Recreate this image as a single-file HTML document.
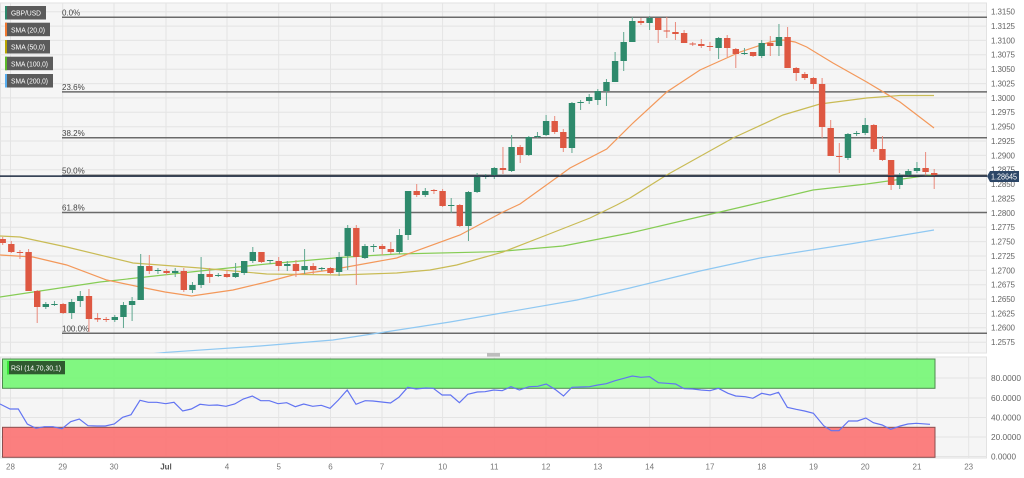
<!DOCTYPE html>
<html><head><meta charset="utf-8"><style>
html,body{margin:0;padding:0;background:#fff;}
svg{display:block;}
text{font-family:"Liberation Sans",sans-serif;}
</style></head><body>
<svg width="1024" height="478" viewBox="0 0 1024 478" xmlns="http://www.w3.org/2000/svg">
<defs>
<clipPath id="cm"><rect x="0" y="3" width="987" height="350"/></clipPath>
<clipPath id="cr"><rect x="0" y="357" width="987" height="102"/></clipPath>
</defs>
<rect x="0" y="0" width="1024" height="478" fill="#fff"/>
<!-- main panel -->
<rect x="0.5" y="3" width="986" height="350" fill="#f5f5f5" stroke="#e2e2e2"/>
<g stroke="#e4e4e4" stroke-width="1">
<path d="M0 11.7H987M0 26.1H987M0 40.4H987M0 54.8H987M0 69.2H987M0 83.6H987M0 97.9H987M0 112.3H987M0 126.7H987M0 141H987M0 155.4H987M0 169.8H987M0 184.1H987M0 198.5H987M0 212.9H987M0 227.3H987M0 241.6H987M0 256H987M0 270.4H987M0 284.7H987M0 299.1H987M0 313.5H987M0 327.8H987M0 342.2H987"/>
<path d="M10.5 3V353M62.7 3V353M114 3V353M166 3V353M227 3V353M278.7 3V353M330.5 3V353M382 3V353M442.6 3V353M494.3 3V353M546 3V353M597.8 3V353M649.6 3V353M710 3V353M761.7 3V353M813.5 3V353M865.2 3V353M917 3V353M968.7 3V353"/>
</g>
<!-- fib lines -->
<g stroke="#6a6a6a" stroke-width="1.5">
<path d="M62 17.3H987M62 91.9H987M62 137.7H987M62 175.3H987M62 212.5H987M62 333.3H987"/>
</g>
<g font-size="8" fill="#444">
<text x="62" y="15.5">0.0%</text>
<text x="62" y="90">23.6%</text>
<text x="62" y="135.8">38.2%</text>
<text x="62" y="173.4">50.0%</text>
<text x="62" y="210.6">61.8%</text>
<text x="62" y="331.4">100.0%</text>
</g>
<g clip-path="url(#cm)" fill="none" stroke-width="1.2">
<polyline stroke="#8fc8f2" points="150,354 166.7,352.3 260,346 333,340 450,322 577,300 630,288 700,271 760,258 850,244 934,230"/>
<polyline stroke="#86cc55" points="0,297 100,282 200,271 266.7,264 340,257.5 396.7,254 496.7,251.7 563,246 630,233 690,219 750,205 813,190 866.7,184 934,174.5"/>
<polyline stroke="#c9bb55" points="0,236 20,237 66.7,247 133,263 200,268 266.7,274 340,275 396.7,273 430,270 456.7,265 503,252 546.7,235 590,218 616.7,205 630,198 666.7,175 733,138 783,115 820,104 866.7,98 900,95.5 934,95.5"/>
<polyline stroke="#f3985a" points="0,255 33,257 66.7,265 106.7,280 140,287 165,292 191.7,296 233,290 266.7,282 293,275 330,270 396.7,258 460,235 503,212 520,204 570,168 606.7,149 633,123 666.7,92 700,70 740,52 770,42 783,40 795,42 806.7,47 833,63 866.7,82 900,102 934,128"/>
</g>
<!-- candles -->
<g clip-path="url(#cm)" fill="none">
<path stroke="#5fa78f" stroke-width="1" d="M45.8 302V309M54.45 301V306M71.7 299V319M80.3 291V307M114.8 315V322M123.45 302V328M132.1 297V321M140.7 254V300M157.95 268V274M175.2 268V277M192.45 282V293M201.1 257V288M218.3 273V277M235.6 263V278M244.2 261V275M252.8 247V263M270.1 260V264M287.3 261V271M304.6 249V274M321.8 267V271M339.1 252V276M347.7 225V270M364.95 244V259M373.6 244V252M399.45 229V254M408.1 191V240M425.3 188V197M451.2 198V213M468.45 191V241M477.1 173V193M485.7 174V179M494.3 167V179M511.6 135V172M528.8 136V156M537.45 132V138M546.1 115V136M571.95 102V153M580.6 100V110M589.2 94V104M597.8 89V105M606.45 79V106M615.1 52V82M623.7 32V71M632.3 17V42M649.6 16V30M718.6 37V59M744.45 48V55M761.7 40V58M778.95 24V56M847.95 133V160M856.6 131V136M865.2 118V135M899.7 173V189M908.3 169V176M916.95 162V173"/>
<path stroke="#e98a7c" stroke-width="1" d="M2.7 237V245M11.3 241V253M19.95 250V259M28.6 249V291M37.2 290V323M63.1 303V314M88.95 289V332M97.6 313V322M106.2 317V322M149.3 255V274M166.6 269V275M183.8 268V292M209.7 268V283M226.95 270V278M261.45 252V263M278.7 257V271M295.95 260V277M313.2 263V274M330.45 267V274M356.3 225V285M382.2 244V255M390.8 242V254M416.7 184V197M433.95 189V194M442.6 189V207M459.8 204V227M502.95 147V174M520.2 145V163M554.7 116V134M563.3 129V152M640.95 18V25M658.2 18V43M666.8 17V38M675.45 22V40M684.1 30V43M692.7 42V46M701.3 39V48M709.95 42V51M727.2 35V57M735.8 48V68M753.1 52V57M770.3 36V56M787.6 27V68M796.2 67V81M804.8 72V80M813.45 77V89M822.1 78V138M830.7 120V156M839.3 143V173M873.8 124V152M882.45 136V161M891.1 160V190M925.6 152V176M934.2 169V189"/>
<path stroke="#2e8a6c" stroke-width="6.4" d="M45.8 304V307M54.45 304V305M71.7 302V313M80.3 296V301M114.8 317V320M123.45 305V317M132.1 301V305M140.7 266V300M157.95 270V271M175.2 271V273M192.45 285V290M201.1 274V285M218.3 275V276M235.6 273V277M244.2 261V273M252.8 252V261M270.1 260V261M287.3 264V266M304.6 266V270M321.8 268V269M339.1 257V272M347.7 228V256M364.95 246V258M373.6 246V247M399.45 235V252M408.1 191V235M425.3 191V195M451.2 205V206M468.45 192V226M477.1 177V192M485.7 176V177M494.3 168V175M511.6 147V171M528.8 137V155M537.45 136V137M546.1 121V135M571.95 103V148M580.6 102V103M589.2 97V101M597.8 91V100M606.45 82V91M615.1 61V82M623.7 42V61M632.3 21V42M649.6 18V23M718.6 38V48M744.45 53V54M761.7 43V56M778.95 37V46M847.95 134V158M856.6 133V134M865.2 125V133M899.7 175V185M908.3 171V175M916.95 168V171"/>
<path stroke="#de5842" stroke-width="6.4" d="M2.7 239V243M11.3 244V252M19.95 252V253M28.6 252V291M37.2 291V307M63.1 304V313M88.95 296V319M97.6 318V319.5M106.2 319V320M149.3 266V271M166.6 271V273M183.8 271V290M209.7 274V277M226.95 274V277M261.45 252V262M278.7 261V266M295.95 264V271M313.2 266V270M330.45 268V273M356.3 228V257M382.2 246V249M390.8 249V252M416.7 191V195M433.95 190V191M442.6 191V206M459.8 205V226M502.95 168V170M520.2 147V155M554.7 121V132M563.3 132V148M640.95 21V23M658.2 18V30M666.8 30.5V31.5M675.45 32V34M684.1 33V43M692.7 43.5V44.5M701.3 44V46M709.95 46V47M727.2 38V48M735.8 49V54M753.1 52V56M770.3 43V46M787.6 37V68M796.2 68V73M804.8 74V78M813.45 78V84M822.1 84V127M830.7 128V156M839.3 156V157M873.8 125V149M882.45 149V160M891.1 160V185M925.6 168V172M934.2 173V175"/>
</g>
<!-- current price line -->
<path d="M0 176.1H987" stroke="#1c2a42" stroke-width="1.5"/>
<!-- right axis -->
<g font-size="8" fill="#666" lengthAdjust="spacingAndGlyphs">
<text x="991" y="14.6" textLength="24">1.3150</text>
<text x="991" y="29" textLength="24">1.3125</text>
<text x="991" y="43.3" textLength="24">1.3100</text>
<text x="991" y="57.7" textLength="24">1.3075</text>
<text x="991" y="72.1" textLength="24">1.3050</text>
<text x="991" y="86.5" textLength="24">1.3025</text>
<text x="991" y="100.8" textLength="24">1.3000</text>
<text x="991" y="115.2" textLength="24">1.2975</text>
<text x="991" y="129.6" textLength="24">1.2950</text>
<text x="991" y="143.9" textLength="24">1.2925</text>
<text x="991" y="158.3" textLength="24">1.2900</text>
<text x="991" y="172.7" textLength="24">1.2875</text>
<text x="991" y="187" textLength="24">1.2850</text>
<text x="991" y="201.4" textLength="24">1.2825</text>
<text x="991" y="215.8" textLength="24">1.2800</text>
<text x="991" y="230.2" textLength="24">1.2775</text>
<text x="991" y="244.5" textLength="24">1.2750</text>
<text x="991" y="258.9" textLength="24">1.2725</text>
<text x="991" y="273.3" textLength="24">1.2700</text>
<text x="991" y="287.6" textLength="24">1.2675</text>
<text x="991" y="302" textLength="24">1.2650</text>
<text x="991" y="316.4" textLength="24">1.2625</text>
<text x="991" y="330.7" textLength="24">1.2600</text>
<text x="991" y="345.1" textLength="24">1.2575</text>
</g>
<path d="M987 176.1L990 171H1019V182H990Z" fill="#2c4667"/>
<text x="991" y="179.6" font-size="8" fill="#fff" textLength="26" lengthAdjust="spacingAndGlyphs">1.28645</text>
<!-- legend -->
<g font-size="7.5" fill="#fff">
<rect x="5" y="6" width="41" height="13.5" fill="#5b5b5b"/><rect x="5" y="6" width="2" height="13.5" fill="#2d8a6c"/><text x="11" y="15.6" textLength="30" lengthAdjust="spacingAndGlyphs">GBP/USD</text>
<rect x="5" y="22.7" width="45" height="13.5" fill="#5b5b5b"/><rect x="5" y="22.7" width="2" height="13.5" fill="#f07830"/><text x="11" y="32.3" textLength="34" lengthAdjust="spacingAndGlyphs">SMA (20,0)</text>
<rect x="5" y="40" width="45" height="13.5" fill="#5b5b5b"/><rect x="5" y="40" width="2" height="13.5" fill="#b8a400"/><text x="11" y="49.6" textLength="34" lengthAdjust="spacingAndGlyphs">SMA (50,0)</text>
<rect x="5" y="56.7" width="48" height="13.5" fill="#5b5b5b"/><rect x="5" y="56.7" width="2" height="13.5" fill="#5cb82a"/><text x="11" y="66.3" textLength="37" lengthAdjust="spacingAndGlyphs">SMA (100,0)</text>
<rect x="5" y="74" width="48" height="13.5" fill="#5b5b5b"/><rect x="5" y="74" width="2" height="13.5" fill="#58aef0"/><text x="11" y="83.6" textLength="37" lengthAdjust="spacingAndGlyphs">SMA (200,0)</text>
</g>
<!-- scroll handle -->
<rect x="487" y="353" width="13" height="4" fill="#bdbdbd"/>
<!-- RSI panel -->
<rect x="0.5" y="357" width="986" height="101" fill="#f5f5f5" stroke="#e2e2e2"/>
<g stroke="#e4e4e4" stroke-width="1">
<path d="M0 378H987M0 398H987M0 417.5H987M0 437H987M0 456.5H987"/>
<path d="M10.5 357V458M62.7 357V458M114 357V458M166 357V458M227 357V458M278.7 357V458M330.5 357V458M382 357V458M442.6 357V458M494.3 357V458M546 357V458M597.8 357V458M649.6 357V458M710 357V458M761.7 357V458M813.5 357V458M865.2 357V458M917 357V458M968.7 357V458"/>
</g>
<rect x="2.5" y="359" width="932.5" height="29.3" fill="#7af77a" fill-opacity="0.95" stroke="#4e8a4e" stroke-width="1"/>
<rect x="2.5" y="427.3" width="932.5" height="30" fill="#fb7878" fill-opacity="0.95" stroke="#8a4e4e" stroke-width="1"/>
<polyline clip-path="url(#cr)" fill="none" stroke="#6274f2" stroke-width="1.2" points="0,404 10,409 18.3,409 27.3,424 36,428.3 44.3,426.7 53,426.7 62,428.7 70.7,421.7 79.3,419 88,425.7 97,426 105.3,426 114.3,424 122.7,417.3 131,414.7 140,400.3 148.3,402.3 156.7,402.3 165.7,403.7 174,402.3 182.7,411 191.3,409 200,404.3 209,405.3 217.3,405 226,406.3 234.7,404 243.3,399 252.3,396 260.7,400.7 269.3,400.7 278,403.7 286.7,402.7 295.3,406.7 303.7,404 312.7,406.3 321.3,405.3 330,408.3 338.4,400 347.2,390 356,404.3 365.2,400.7 372.9,401 381.7,402 390.5,403 398.9,397.3 407.7,387.3 416.1,389 425.7,388 433.3,388.3 442.1,395 450.6,395 459.4,402.7 467.8,394.3 477.3,392 485,391.7 493.8,390 502.2,390.7 511,386.7 519.4,390 529,386.7 537.8,386.3 546.2,384 555,389.3 563.5,396 571.9,387.3 580.7,387 589.5,386.7 597.9,385 606.3,383.7 615.1,380.7 623.9,378.3 632.3,376 640.8,377.3 649.6,376.7 658.4,382.7 666.8,383.3 675.6,384 684,388.7 692.8,389 701.2,390 710,390.7 718.4,388.3 728,393.3 735.7,396 745.2,396.7 752.9,398.3 761.7,393.3 770.1,395 778.5,392.3 787.3,407.3 796.1,409.3 804.6,411 813.4,413.3 823.7,425.7 831.3,430.7 839,430.7 848.6,421 857.4,421 865.8,418 873.4,422.7 882.2,425 890.6,429.3 900.2,426 907.9,424 916.3,423.3 930,424.3"/>
<rect x="7" y="361" width="58" height="13.3" fill="#2f5a2f"/>
<rect x="7" y="361" width="2" height="13.3" fill="#39e639"/>
<text x="11" y="370.6" font-size="7.5" fill="#fff" textLength="50" lengthAdjust="spacingAndGlyphs">RSI (14,70,30,1)</text>
<g font-size="8" fill="#666">
<text x="991" y="380.8" textLength="30" lengthAdjust="spacingAndGlyphs">80.0000</text>
<text x="991" y="400.8" textLength="30" lengthAdjust="spacingAndGlyphs">60.0000</text>
<text x="991" y="420.3" textLength="30" lengthAdjust="spacingAndGlyphs">40.0000</text>
<text x="991" y="439.8" textLength="30" lengthAdjust="spacingAndGlyphs">20.0000</text>
<text x="991" y="459.3" textLength="25" lengthAdjust="spacingAndGlyphs">0.0000</text>
</g>
<!-- x axis -->
<g font-size="8" fill="#777" text-anchor="middle">
<text x="10.5" y="469.5">28</text>
<text x="62.7" y="469.5">29</text>
<text x="114" y="469.5">30</text>
<text x="166" y="469.5" font-weight="bold" fill="#555">Jul</text>
<text x="227" y="469.5">4</text>
<text x="278.7" y="469.5">5</text>
<text x="330.5" y="469.5">6</text>
<text x="382" y="469.5">7</text>
<text x="442.6" y="469.5">10</text>
<text x="494.3" y="469.5">11</text>
<text x="546" y="469.5">12</text>
<text x="597.8" y="469.5">13</text>
<text x="649.6" y="469.5">14</text>
<text x="710" y="469.5">17</text>
<text x="761.7" y="469.5">18</text>
<text x="813.5" y="469.5">19</text>
<text x="865.2" y="469.5">20</text>
<text x="917" y="469.5">21</text>
<text x="968.7" y="469.5">23</text>
</g>
</svg>
</body></html>
